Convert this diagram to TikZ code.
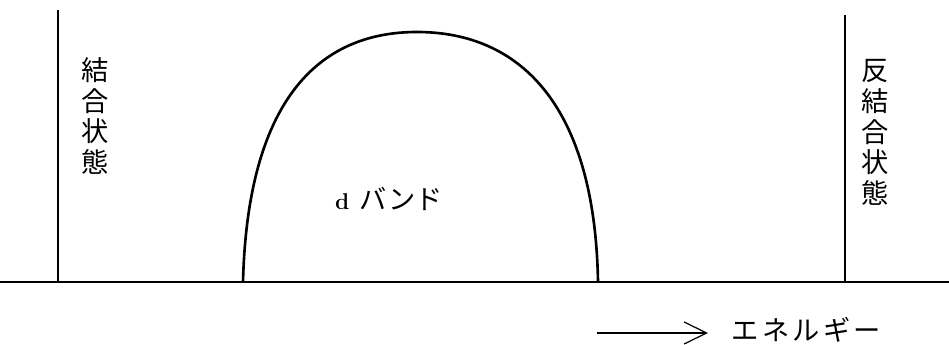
\documentclass[tikz,border=0pt]{standalone}
\usepackage{fontspec}
\newfontfamily\jpfont{Noto Sans CJK JP}
\usetikzlibrary{arrows.meta,positioning}

\tikzset{
  label jp/.style={font=\jpfont\fontsize{15.5}{17.5}\selectfont, align=center, inner sep=0pt},
  state line/.style={line width=0.85pt},
  band line/.style={line width=1.5pt}
}

\begin{document}
\begin{tikzpicture}[>=latex, thick]
  \useasboundingbox (0,0) rectangle (18.98,6.9);
  % energy axis
  \draw[line width=1.1pt] (0,1.26) -- (18.98,1.26);
  % bonding and antibonding levels
  \draw[state line] (1.16,6.7) -- (1.16,1.26);
  \draw[state line] (16.9,6.6) -- (16.9,1.26);
  \node[label jp] (bond) at (1.9,4.58) {結\\合\\状\\態};
  \node[label jp] (antibond) at (17.5,4.25) {反\\結\\合\\状\\態};
  % d band
  \draw[band line] (4.86,1.26) .. controls (4.95,4.8) and (6.3,6.26) .. (8.34,6.26)
        .. controls (10.4,6.26) and (11.9,4.8) .. (11.96,1.26);
  \node[label jp] (dband) at (7.78,2.92) {{\rmfamily\bfseries\fontsize{13}{13}\selectfont d}\hspace{6pt}バンド};
  % direction of energy
  \coordinate (arrstart) at (11.94,0.24);
  \node[label jp, anchor=west, inner xsep=13pt] (energy) at (14.16,0.3)
        {\addfontfeature{LetterSpace=12}エネルギー};
  \draw[-{Straight Barb[length=4.5mm, width=4.4mm]}, line width=0.7pt] (arrstart) -- (arrstart -| energy.west);
\end{tikzpicture}
\end{document}
